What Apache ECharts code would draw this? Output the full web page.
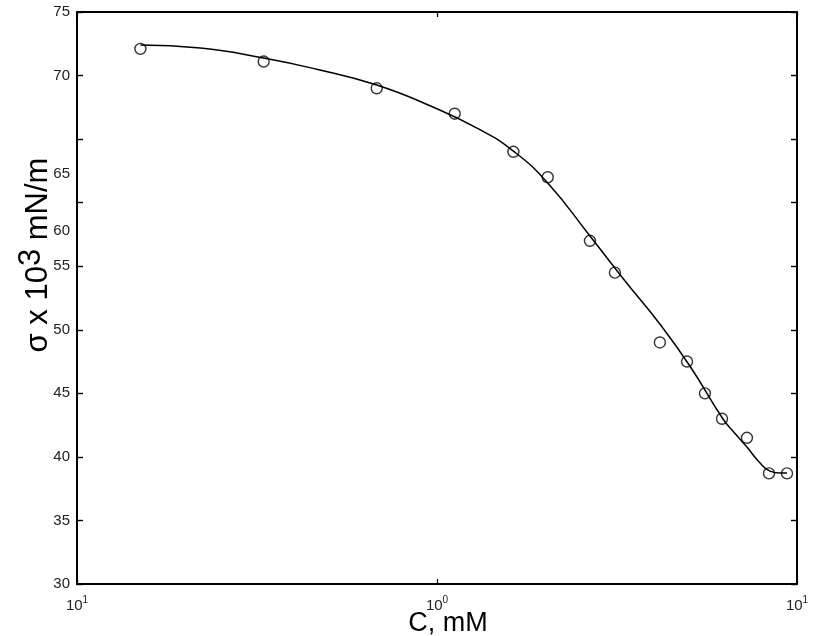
<!DOCTYPE html>
<html>
<head>
<meta charset="utf-8">
<script src="https://cdn.jsdelivr.net/npm/echarts@6/dist/echarts.min.js"></script>
<style>
  html, body { margin: 0; padding: 0; background: #fff; }
  #chart { width: 814px; height: 636px; }
</style>
</head>
<body>
<div id="chart"></div>
<script>
// measured points: concentration (mM) vs surface tension
const pointC = [0.15, 0.33, 0.68, 1.12, 1.63, 2.03, 2.66, 3.12, 4.16, 4.95, 5.55, 6.19, 7.26, 8.36, 9.38];
const pointSigma = [72.1, 71.1, 69.0, 67.0, 64.0, 62.0, 57.0, 54.5, 49.0, 47.5, 45.0, 43.0, 41.5, 38.7, 38.7];

// fitted curve
const curveC = [0.15, 0.22, 0.33, 0.46, 0.68, 0.96, 1.32, 1.63, 2.03, 2.66, 3.33, 4.16, 5.04, 6.23, 6.71, 7.26, 7.85, 8.41, 9.0, 9.38];
const curveSigma = [72.4, 72.17, 71.38, 70.52, 69.26, 67.6, 65.72, 64.06, 61.55, 57.38, 53.84, 50.45, 47.15, 42.98, 41.88, 40.77, 39.6, 38.88, 38.73, 38.73];

// tick labels that sit away from their ticks in the original
const hiddenTicks = [65, 60];
const shiftedLabelPos = [62.25, 57.8];
const shiftedLabelText = ['65', '60'];

const xSup = { 0.1: '1', 1: '0', 10: '1' };

const chart = echarts.init(document.getElementById('chart'), null, { renderer: 'canvas' });

const lineStyle = { color: '#000', width: 2 };
const labelFont = { fontFamily: 'Liberation Sans', fontSize: 15, color: '#222' };

const option = {
    animation: false,
    backgroundColor: '#fff',
    grid: { left: 77, right: 17, top: 12, bottom: 52, outerBoundsMode: 'none', containLabel: false },
    xAxis: [
        {
            type: 'log', logBase: 10, min: 0.1, max: 10,
            position: 'bottom',
            name: 'C, mM', nameLocation: 'middle', nameGap: 26, nameMoveOverlap: false,
            nameTextStyle: { fontFamily: 'Liberation Sans', fontSize: 27, color: '#000', padding: [0, 0, 0, 22] },
            axisLine: { lineStyle },
            axisTick: { inside: true, length: 5, lineStyle: { color: '#000', width: 1.2 } },
            minorTick: { show: false },
            splitLine: { show: false },
            axisLabel: {
                margin: 11,
                formatter: v => '{b|10}{s|' + (xSup[v] || '') + '}',
                rich: {
                    b: { fontFamily: 'Liberation Sans', fontSize: 15, color: '#222', verticalAlign: 'bottom' },
                    s: { fontFamily: 'Liberation Sans', fontSize: 10, color: '#222', verticalAlign: 'bottom', padding: [0, 0, 8, 0] }
                }
            }
        },
        {
            type: 'log', logBase: 10, min: 0.1, max: 10,
            position: 'top',
            axisLine: { lineStyle },
            axisTick: { inside: true, length: 5, lineStyle: { color: '#000', width: 1.2 } },
            splitLine: { show: false },
            axisLabel: { show: false }
        }
    ],
    yAxis: [
        {
            type: 'value', min: 30, max: 75, interval: 5,
            position: 'left',
            name: '{n|σ x 10}{s|3}{n| mN/m}', nameLocation: 'middle', nameGap: 23, nameMoveOverlap: false,
            nameTextStyle: {
                padding: [0, 0, 0, 86],
                rich: {
                    n: { fontFamily: 'Liberation Sans', fontSize: 31, color: '#000', verticalAlign: 'bottom' },
                    s: { fontFamily: 'Liberation Sans', fontSize: 31, color: '#000', verticalAlign: 'bottom', padding: [0, 0, 7, 0] }
                }
            },
            axisLine: { lineStyle },
            axisTick: { inside: true, length: 6, lineStyle: { color: '#000', width: 1.4 } },
            splitLine: { show: false },
            axisLabel: Object.assign({ margin: 7, formatter: v => hiddenTicks.includes(v) ? '' : String(v) }, labelFont)
        },
        {
            type: 'value', min: 30, max: 75, interval: 5,
            position: 'right',
            axisLine: { lineStyle },
            axisTick: { inside: true, length: 6, lineStyle: { color: '#000', width: 1.4 } },
            splitLine: { show: false },
            axisLabel: { show: false }
        },
        {
            type: 'value', min: 30, max: 75,
            position: 'left',
            axisLine: { show: false },
            axisTick: { show: false },
            splitLine: { show: false },
            axisLabel: Object.assign({
                margin: 7,
                customValues: shiftedLabelPos,
                formatter: v => shiftedLabelText[shiftedLabelPos.indexOf(v)] || ''
            }, labelFont)
        }
    ],
    series: [
        {
            type: 'line',
            data: curveC.map((c, i) => [c, curveSigma[i]]),
            smooth: 0.5,
            showSymbol: false,
            symbol: 'none',
            lineStyle: { color: '#000', width: 1.5 },
            z: 2
        },
        {
            type: 'scatter',
            data: pointC.map((c, i) => [c, pointSigma[i]]),
            symbol: 'circle',
            symbolSize: 11,
            itemStyle: { color: 'rgba(0,0,0,0)', borderColor: '#000', borderWidth: 1.4 },
            z: 3
        }
    ]
};

chart.setOption(option);
window.addEventListener('resize', chart.resize);
</script>
</body>
</html>
